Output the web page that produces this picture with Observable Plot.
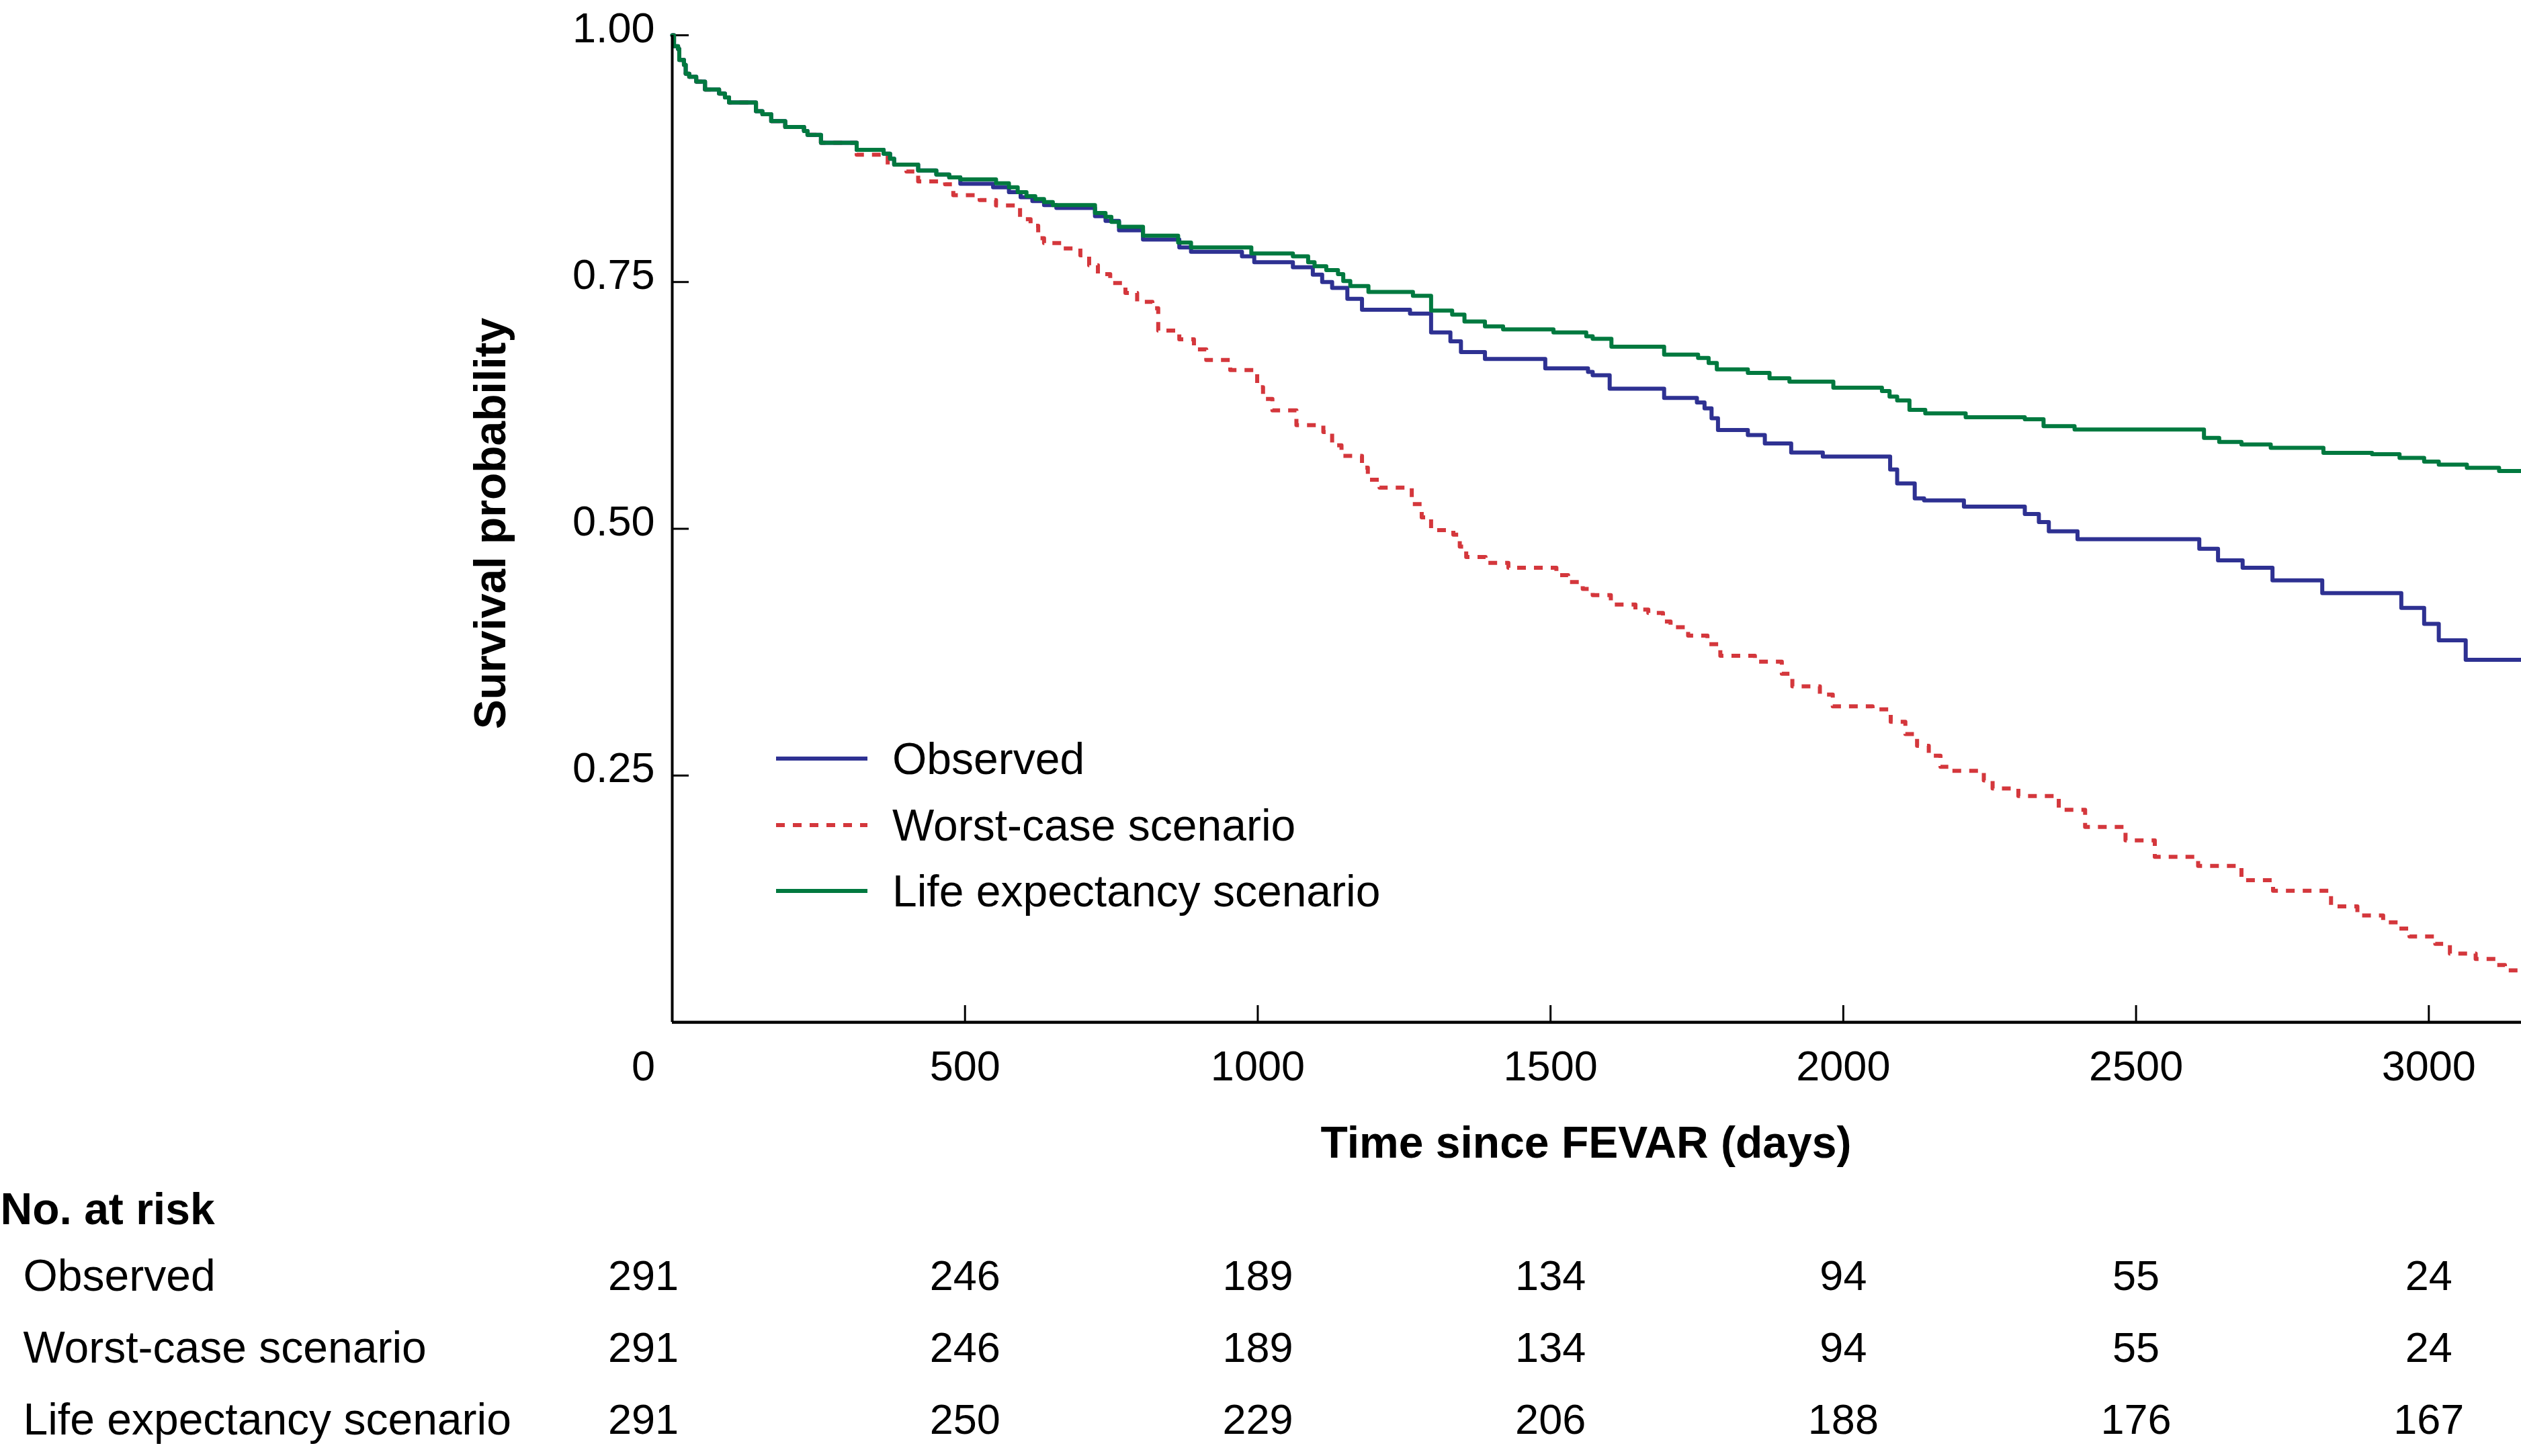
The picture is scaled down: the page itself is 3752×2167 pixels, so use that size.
<!DOCTYPE html>
<html>
<head>
<meta charset="utf-8">
<script src="https://cdn.jsdelivr.net/npm/d3@7"></script>
<script src="https://cdn.jsdelivr.net/npm/@observablehq/plot@0.6"></script>
<style>
html, body { margin: 0; padding: 0; background: #fff; }
#chart { width: 3752px; }
#chart svg { display: block; }
</style>
</head>
<body>
<div id="chart"></div>
<script>
// ---------- data ----------
const seriesNames = ["Observed", "Worst-case scenario", "Life expectancy scenario"];
const seriesColors = ["#2e3192", "#d4373c", "#00793f"];

const xTicks = [500, 1000, 1500, 2000, 2500, 3000];
const xTickLabels = ["0", "500", "1000", "1500", "2000", "2500", "3000"];
const xTickLabelValues = [0, 500, 1000, 1500, 2000, 2500, 3000];
const yTicks = [0.25, 0.5, 0.75, 1.0];
const yTickLabels = ["0.25", "0.50", "0.75", "1.00"];

// Kaplan–Meier step points [day, survival]
const sharedEarly = [
  [0, 1.0], [3, 0.989], [10, 0.986], [12, 0.975], [20, 0.970], [23, 0.961], [29, 0.958],
  [41, 0.953], [56, 0.945], [80, 0.941], [90, 0.937], [97, 0.932], [143, 0.923],
  [154, 0.920], [169, 0.913], [193, 0.907], [225, 0.903], [231, 0.899], [254, 0.891]
];
const sharedMid = [
  [315, 0.884], [361, 0.880], [372, 0.875], [379, 0.869], [420, 0.863], [451, 0.859], [473, 0.856]
];
const lifeTail = [
  [492, 0.854], [553, 0.850], [575, 0.846], [590, 0.841], [605, 0.837], [620, 0.834],
  [635, 0.831], [650, 0.828], [722, 0.820], [740, 0.816], [750, 0.811], [763, 0.806],
  [804, 0.797], [864, 0.790], [886, 0.785], [989, 0.779], [1060, 0.776], [1086, 0.770],
  [1097, 0.766], [1117, 0.762], [1137, 0.758], [1146, 0.751], [1158, 0.746], [1189, 0.740],
  [1265, 0.736], [1296, 0.721], [1332, 0.717], [1353, 0.710], [1388, 0.705], [1419, 0.702],
  [1505, 0.699], [1561, 0.695], [1572, 0.6925], [1604, 0.6845], [1694, 0.6765], [1752, 0.673],
  [1770, 0.668], [1784, 0.6615], [1837, 0.658], [1874, 0.6525], [1908, 0.649], [1983, 0.643],
  [2066, 0.6395], [2079, 0.634], [2092, 0.630], [2113, 0.6205], [2140, 0.617], [2209, 0.613],
  [2310, 0.611], [2342, 0.604], [2395, 0.6005], [2616, 0.592], [2642, 0.588], [2680, 0.5855],
  [2730, 0.582], [2820, 0.577], [2903, 0.5755], [2950, 0.5718], [2992, 0.568], [3017, 0.565],
  [3065, 0.5617], [3120, 0.5586], [3158, 0.5586]
];
const observedTail = [
  [492, 0.8495], [548, 0.846], [575, 0.841], [595, 0.836], [615, 0.832], [635, 0.828],
  [656, 0.825], [722, 0.8167], [740, 0.812], [763, 0.8025], [804, 0.793], [866, 0.785],
  [886, 0.7806], [973, 0.776], [994, 0.770], [1060, 0.765], [1094, 0.7575], [1110, 0.750],
  [1127, 0.744], [1153, 0.733], [1178, 0.722], [1260, 0.718], [1296, 0.699], [1329, 0.690],
  [1347, 0.679], [1388, 0.672], [1491, 0.6625], [1564, 0.659], [1572, 0.6555], [1601, 0.642],
  [1694, 0.6326], [1750, 0.628], [1763, 0.622], [1775, 0.612], [1786, 0.600], [1837, 0.595],
  [1866, 0.5865], [1911, 0.5773], [1965, 0.5732], [2080, 0.560], [2092, 0.546], [2122, 0.5308],
  [2138, 0.5287], [2206, 0.5225], [2310, 0.515], [2334, 0.5068], [2351, 0.4974], [2400, 0.4894],
  [2608, 0.4798], [2640, 0.468], [2682, 0.4606], [2733, 0.4477], [2818, 0.4348], [2953, 0.4199],
  [2992, 0.4036], [3017, 0.387], [3063, 0.3672], [3158, 0.3672]
];
const worstTail = [
  [315, 0.879], [368, 0.869], [400, 0.862], [420, 0.852], [466, 0.849], [480, 0.838],
  [525, 0.833], [553, 0.8276], [594, 0.8137], [612, 0.807], [625, 0.7945], [635, 0.7895],
  [666, 0.784], [697, 0.777], [712, 0.767], [727, 0.758], [748, 0.749], [774, 0.739],
  [794, 0.730], [820, 0.7234], [830, 0.7008], [866, 0.692], [891, 0.6817], [912, 0.671],
  [953, 0.6608], [999, 0.6434], [1009, 0.6315], [1025, 0.6199], [1066, 0.605], [1112, 0.598],
  [1127, 0.5845], [1143, 0.5738], [1178, 0.562], [1188, 0.5497], [1208, 0.5417], [1263, 0.525],
  [1280, 0.5116], [1296, 0.4986], [1334, 0.494], [1345, 0.482], [1356, 0.4714], [1389, 0.4654],
  [1428, 0.4605], [1510, 0.453], [1530, 0.446], [1555, 0.439], [1572, 0.4328], [1603, 0.4233],
  [1645, 0.4181], [1667, 0.4148], [1692, 0.406], [1705, 0.4002], [1735, 0.3917], [1768, 0.383],
  [1790, 0.3713], [1849, 0.3653], [1895, 0.3531], [1913, 0.3403], [1960, 0.332], [1982, 0.3202],
  [2050, 0.317], [2081, 0.3045], [2106, 0.292], [2126, 0.2801], [2146, 0.270], [2166, 0.2588],
  [2185, 0.2548], [2240, 0.245], [2255, 0.2369], [2299, 0.2293], [2368, 0.2153], [2413, 0.198],
  [2482, 0.1843], [2532, 0.1676], [2606, 0.1585], [2680, 0.1439], [2734, 0.1332], [2833, 0.1174],
  [2878, 0.1083], [2922, 0.1013], [2947, 0.095], [2967, 0.087], [3011, 0.0794], [3036, 0.0696],
  [3080, 0.0642], [3115, 0.058], [3130, 0.0526], [3158, 0.0526]
];

const observed = sharedEarly.concat(sharedMid, observedTail);
const worstCase = sharedEarly.concat(worstTail);
const lifeExpectancy = sharedEarly.concat(sharedMid, lifeTail);

// Number at risk
const riskTimes = [0, 500, 1000, 1500, 2000, 2500, 3000];
const riskObserved = [291, 246, 189, 134, 94, 55, 24];
const riskWorst = [291, 246, 189, 134, 94, 55, 24];
const riskLife = [291, 250, 229, 206, 188, 176, 167];

// ---------- build ----------
const FONT = "'Liberation Sans', Arial, Helvetica, sans-serif";
const W = 3752;
const xDomain = [0, 3158];
const toRows = (arr) => arr.map(d => ({day: d[0], s: d[1]}));

const chart1 = Plot.plot({
  width: W,
  height: 1751,
  marginLeft: 1000,
  marginRight: 0,
  marginTop: 52,
  marginBottom: 230,
  style: {fontFamily: FONT, fontSize: "63px", background: "#fff", overflow: "visible"},
  x: {domain: xDomain, axis: null},
  y: {domain: [0, 1], axis: null},
  marks: [
    Plot.axisX(xTicks, {tickSize: -25, fill: "none", stroke: "#000", strokeWidth: 3, label: null}),
    Plot.axisY(yTicks, {tickSize: -25, fill: "none", stroke: "#000", strokeWidth: 3, label: null}),
    Plot.text(xTickLabelValues, {x: d => d, text: (d, i) => xTickLabels[i], frameAnchor: "bottom",
      dy: 66, textAnchor: "middle", lineAnchor: "middle", fontSize: 63, fill: "#000", filter: d => d !== 0}),
    Plot.text([0], {x: d => d, text: () => xTickLabels[0], frameAnchor: "bottom",
      dy: 66, dx: -43, textAnchor: "middle", lineAnchor: "middle", fontSize: 63, fill: "#000"}),
    Plot.text(yTicks, {y: d => d, text: (d, i) => yTickLabels[i], frameAnchor: "left",
      dx: -26, dy: -10, textAnchor: "end", lineAnchor: "middle", fontSize: 63, fill: "#000"}),
    Plot.text(["Time since FEVAR (days)"], {frameAnchor: "bottom", dy: 180, dx: -16,
      textAnchor: "middle", fontSize: 66, fontWeight: "bold", lineAnchor: "middle", fill: "#000"}),
    Plot.text(["Survival probability"], {frameAnchor: "left", dx: -270, dy: -8, rotate: -90,
      textAnchor: "middle", fontSize: 66, fontWeight: "bold", lineAnchor: "middle", fill: "#000"}),
    Plot.line(toRows(worstCase), {x: "day", y: "s", curve: "step-after", stroke: seriesColors[1],
      strokeWidth: 6, strokeDasharray: "13,12", strokeLinecap: "butt"}),
    Plot.line(toRows(observed), {x: "day", y: "s", curve: "step-after", stroke: seriesColors[0], strokeWidth: 6}),
    Plot.line(toRows(lifeExpectancy), {x: "day", y: "s", curve: "step-after", stroke: seriesColors[2], strokeWidth: 6}),
    Plot.ruleY([0], {stroke: "#000", strokeWidth: 4.5}),
    Plot.ruleX([0], {stroke: "#000", strokeWidth: 4})
  ]
});

// Legend inside plot
const legendY = [1129, 1228, 1326];
const svg1 = d3.select(chart1.tagName.toLowerCase() === "svg" ? chart1 : chart1.querySelector("svg"));
const lg = svg1.append("g").attr("class", "legend").attr("text-anchor", "start");
seriesNames.forEach((name, i) => {
  lg.append("line")
    .attr("x1", 1155).attr("x2", 1291)
    .attr("y1", legendY[i]).attr("y2", legendY[i])
    .attr("stroke", seriesColors[i]).attr("stroke-width", 6)
    .attr("stroke-dasharray", i === 1 ? "13,12" : null);
  lg.append("text")
    .attr("x", 1328).attr("y", legendY[i]).attr("dy", "0.35em")
    .attr("text-anchor", "start")
    .attr("font-family", FONT).attr("font-size", 66).attr("fill", "#000")
    .text(name);
});

// Number-at-risk table
const riskTable = [];
[riskObserved, riskWorst, riskLife].forEach((arr, gi) => {
  arr.forEach((n, ti) => riskTable.push({group: seriesNames[gi], time: riskTimes[ti], n}));
});

const chart2 = Plot.plot({
  width: W,
  height: 416,
  marginLeft: 1000,
  marginRight: 0,
  marginTop: 147,
  marginBottom: 54,
  style: {fontFamily: FONT, fontSize: "63px", background: "#fff", overflow: "visible"},
  x: {domain: xDomain, axis: null},
  y: {type: "point", domain: seriesNames, padding: 0, axis: null},
  marks: [
    Plot.text(riskTable.filter(d => d.time !== 0), {x: "time", y: "group", text: d => String(d.n), fontSize: 63, fill: "#000"}),
    Plot.text(riskTable.filter(d => d.time === 0), {x: "time", y: "group", text: d => String(d.n), dx: -43, fontSize: 63, fill: "#000"}),
    Plot.text(seriesNames, {y: d => d, text: d => d, frameAnchor: "left", dx: -966, textAnchor: "start", fontSize: 66, fill: "#000"}),
    Plot.text(["No. at risk"], {frameAnchor: "top-left", dx: -1000, dy: -98, textAnchor: "start",
      lineAnchor: "middle", fontSize: 66, fontWeight: "bold", fill: "#000"})
  ]
});

document.getElementById("chart").append(chart1, chart2);
</script>
</body>
</html>
